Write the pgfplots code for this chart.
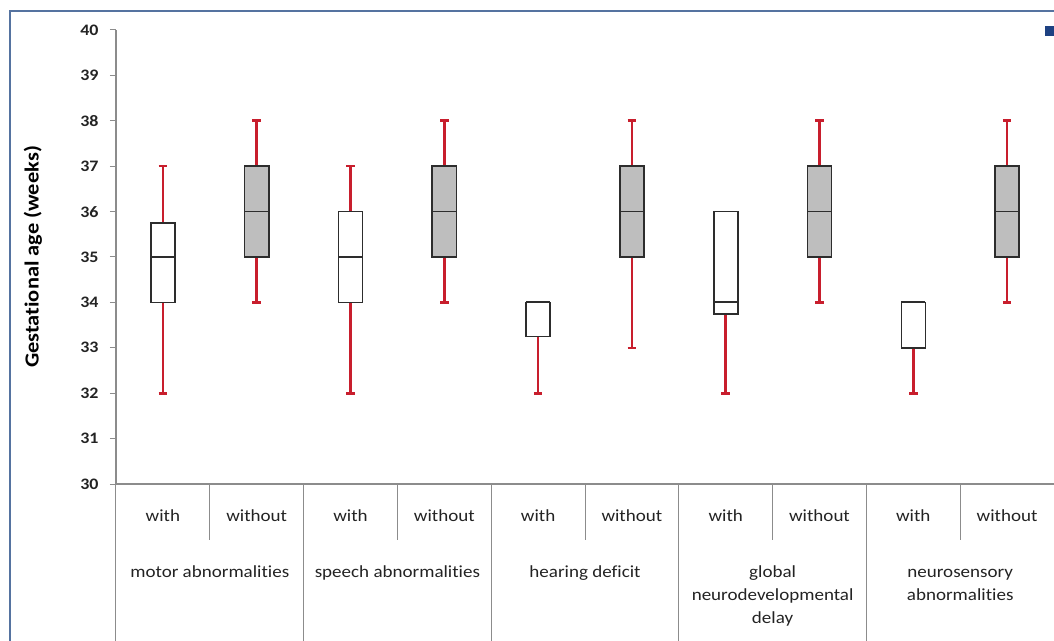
\documentclass[border=0pt]{standalone}
\usepackage{pgfplots}
\pgfplotsset{compat=1.18}
\usepackage{fontspec}
\setmainfont{Carlito}[FakeStretch=1.12, Ligatures=NoCommon]
\definecolor{frameblue}{RGB}{85,115,160}
\definecolor{sqblue}{RGB}{30,65,130}
\definecolor{whisk}{RGB}{200,30,45}
\definecolor{boxgray}{RGB}{190,190,190}
\definecolor{boxline}{RGB}{45,45,45}
\definecolor{axgray}{RGB}{140,140,140}
\definecolor{txt}{RGB}{35,35,35}
\newcommand{\catfont}{\fontsize{17}{23}\selectfont\color{txt}}
% box: pos, lower whisker, lower quartile, median, upper quartile, upper whisker, fill
\newcommand{\bx}[7]{%
  \pgfmathsetmacro\xl{#1-0.128}\pgfmathsetmacro\xr{#1+0.128}%
  \pgfmathsetmacro\cl{#1-0.045}\pgfmathsetmacro\cr{#1+0.045}%
  \edef\doplots{%
    \noexpand\addplot[whisk, line width=2.6pt] coordinates {(#1,#2) (#1,#3)};
    \noexpand\addplot[whisk, line width=2.6pt] coordinates {(\cl,#2) (\cr,#2)};
  }\doplots
  \ifdim #6pt>#5pt
  \edef\doplots{%
    \noexpand\addplot[whisk, line width=2.6pt] coordinates {(#1,#5) (#1,#6)};
    \noexpand\addplot[whisk, line width=2.6pt] coordinates {(\cl,#6) (\cr,#6)};
  }\doplots
  \fi
  \edef\doplots{%
    \noexpand\addplot[draw=boxline, fill=#7, line width=1.6pt] coordinates {(\xl,#3) (\xr,#3) (\xr,#5) (\xl,#5)} -- cycle;
    \noexpand\addplot[boxline, line width=1.8pt] coordinates {(\xl,#4) (\xr,#4)};
  }\doplots
}
\begin{document}
\begin{tikzpicture}
\path[use as bounding box] (0pt,0pt) rectangle (1054pt,640pt);
% frame
\draw[frameblue, line width=1.6pt] (10pt,-5pt) -- (10pt,629pt) -- (1060pt,629pt);
\fill[sqblue] (1045pt,604pt) rectangle (1056pt,614pt);
\begin{axis}[
  at={(116pt,156pt)}, anchor=south west,
  scale only axis, width=938pt, height=454pt,
  xmin=0, xmax=10, ymin=30, ymax=40,
  axis x line=bottom, axis y line=left,
  axis line style={-, axgray, line width=1.3pt},
  xtick=\empty,
  ytick={30,31,...,40},
  tick align=outside, major tick length=6pt,
  tick style={axgray, line width=1pt},
  /pgf/number format/assume math mode=true,
  yticklabel style={font=\fontsize{16}{16}\selectfont\bfseries, text=txt, xshift=-8pt},
  ylabel={Gestational age (weeks)},
  every axis y label/.style={at={(ticklabel cs:0.5)}, rotate=90, anchor=center, yshift=44pt, font=\fontsize{20}{20}\selectfont\bfseries, text=black},
  clip=false,
]
\bx{0.5}{32}{34}{35}{35.75}{37}{white}
\bx{1.5}{34}{35}{36}{37}{38}{boxgray}
\bx{2.5}{32}{34}{35}{36}{37}{white}
\bx{3.5}{34}{35}{36}{37}{38}{boxgray}
\bx{4.5}{32}{33.25}{34}{34}{34}{white}
\bx{5.5}{33}{35}{36}{37}{38}{boxgray}
\bx{6.5}{32}{33.75}{34}{36}{36}{white}
\bx{7.5}{34}{35}{36}{37}{38}{boxgray}
\bx{8.5}{32}{33}{34}{34}{34}{white}
\bx{9.5}{34}{35}{36}{37}{38}{boxgray}
% separators under the axis
\pgfplotsinvokeforeach{1,3,5,7,9}{\draw[axgray, line width=1pt] (axis cs:#1,30) -- ++(0pt,-56pt);}
\pgfplotsinvokeforeach{0,2,4,6,8,10}{\draw[axgray, line width=1pt] (axis cs:#1,30) -- ++(0pt,-170pt);}
% with / without
\pgfplotsinvokeforeach{0.5,2.5,4.5,6.5,8.5}{\node[anchor=base, inner sep=0pt, font=\catfont] at ([yshift=-37pt]axis cs:#1,30) {with};}
\pgfplotsinvokeforeach{1.5,3.5,5.5,7.5,9.5}{\node[anchor=base, inner sep=0pt, font=\catfont] at ([yshift=-37pt]axis cs:#1,30) {without};}
% group labels
\node[anchor=base, inner sep=0pt, font=\catfont] at ([yshift=-93pt]axis cs:1,30) {motor abnormalities};
\node[anchor=base, inner sep=0pt, font=\catfont] at ([yshift=-93pt]axis cs:3,30) {speech abnormalities};
\node[anchor=base, inner sep=0pt, font=\catfont] at ([yshift=-93pt]axis cs:5,30) {hearing deficit};
\node[anchor=base, inner sep=0pt, font=\catfont] at ([yshift=-93pt]axis cs:7,30) {global};
\node[anchor=base, inner sep=0pt, font=\catfont] at ([yshift=-116pt]axis cs:7,30) {neurodevelopmental};
\node[anchor=base, inner sep=0pt, font=\catfont] at ([yshift=-139pt]axis cs:7,30) {delay};
\node[anchor=base, inner sep=0pt, font=\catfont] at ([yshift=-93pt]axis cs:9,30) {neurosensory};
\node[anchor=base, inner sep=0pt, font=\catfont] at ([yshift=-116pt]axis cs:9,30) {abnormalities};
\end{axis}
\end{tikzpicture}
\end{document}
